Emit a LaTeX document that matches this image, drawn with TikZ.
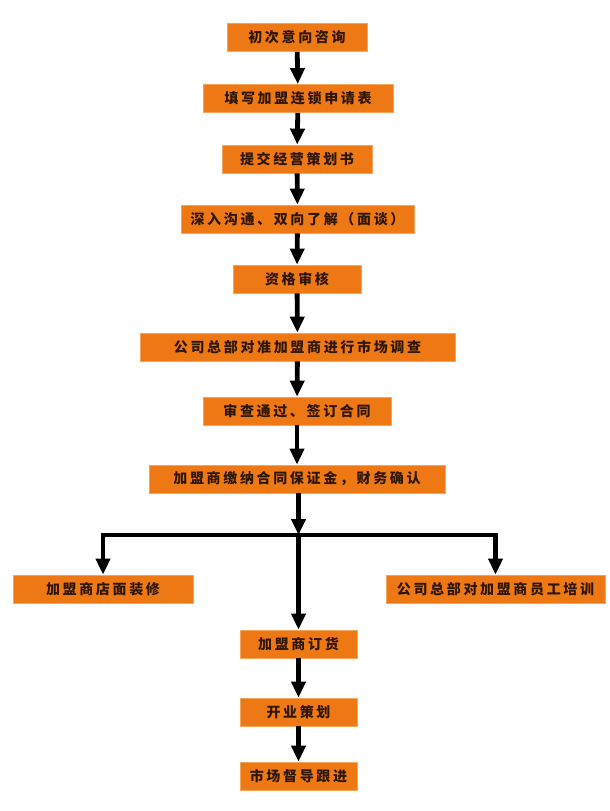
\documentclass[tikz,border=0pt]{standalone}
\usepackage{fontspec}
\usetikzlibrary{arrows.meta,calc,positioning}
\newfontfamily\cjk[LetterSpace=19]{Noto Sans CJK SC}
\definecolor{boxfill}{HTML}{EE7914}
\definecolor{boxedge}{HTML}{F6A45A}
\definecolor{ink}{HTML}{2E1605}

\begin{document}
\begin{tikzpicture}[x=1pt, y=-1pt,
  font=\cjk\bfseries\fontsize{14}{16}\selectfont, text=ink,
  stage/.style={draw=boxedge, fill=boxfill, line width=.8pt,
    minimum height=28pt, inner sep=0pt, align=center},
  flow/.style={-{Triangle[length=16pt,width=14pt]}, line width=4.8pt,
    black, line join=miter}
]
  \useasboundingbox (0,0) rectangle (610,811);

  % main chain, top to bottom
  \node[stage, minimum width=140pt] (inquiry) at (297,37.5) {初次意向咨询};
  \node[stage, minimum width=190pt] (apply) at (298,98.5) {填写加盟连锁申请表};
  \node[stage, minimum width=150pt] (plan) at (297,159) {提交经营策划书};
  \node[stage, minimum width=233pt] (talk) at (297.5,219) {深入沟通、双向了解（面谈）};
  \node[stage, minimum width=128pt] (check) at (297,279) {资格审核};
  \node[stage, minimum width=315pt] (survey) at (297.5,347) {公司总部对准加盟商进行市场调查};
  \node[stage, minimum width=188pt] (sign) at (297,411) {审查通过、签订合同};
  \node[stage, minimum width=296pt] (deposit) at (297,479) {加盟商缴纳合同保证金，财务确认};

  % three branches after the deposit
  \coordinate (split) at (298.5,535);
  \node[stage, minimum width=180pt] (decor) at (103,589) {加盟商店面装修};
  \node[stage, minimum width=219pt] (train) at (495.5,589) {公司总部对加盟商员工培训};
  \node[stage, minimum width=117pt] (order) at (298.5,644) {加盟商订货};
  \node[stage, minimum width=117pt] (launch) at (298.5,712) {开业策划};
  \node[stage, minimum width=117pt] (follow) at (298.5,776) {市场督导跟进};

  \draw[flow] (inquiry) -- (apply);
  \draw[flow] (apply) -- (plan);
  \draw[flow] (plan) -- (talk);
  \draw[flow] (talk) -- (check);
  \draw[flow] (check) -- (survey);
  \draw[flow] (survey) -- (sign);
  \draw[flow] (sign) -- (deposit);
  \draw[flow] (deposit.south -| split) -- (split);
  \draw[flow] (split) -| (decor.north);
  \draw[flow] (split) -| (train.north);
  \draw[flow] (split) -- (order);
  \draw[flow] (order) -- (launch);
  \draw[flow] (launch) -- (follow);
\end{tikzpicture}
\end{document}
